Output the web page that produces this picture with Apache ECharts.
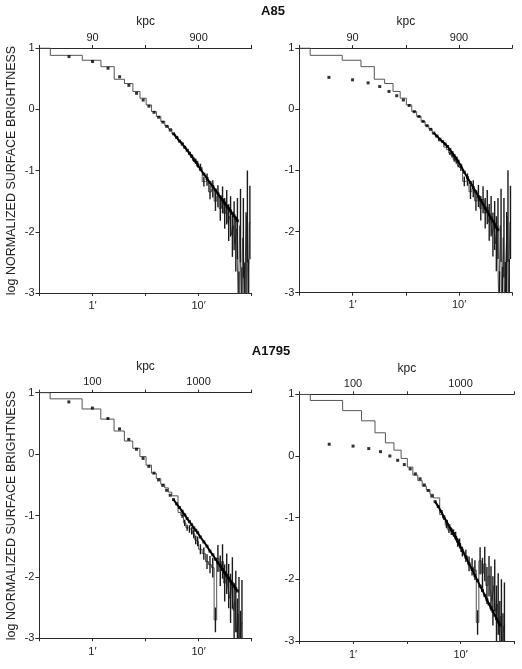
<!DOCTYPE html>
<html><head><meta charset="utf-8">
<script src="https://cdn.jsdelivr.net/npm/echarts/dist/echarts.min.js"></script>
<style>html,body{margin:0;padding:0;background:#fff}#c{width:522px;height:669px}</style>
</head><body><div id="c"></div>
<script>
// ---- data (radius in arcmin, values = log normalized surface brightness) ----
const histEdges = [0.316, 0.4, 0.8, 1.2, 1.6, 2.0, 2.4, 2.8, 3.2, 3.6, 4.0, 4.4, 4.8, 5.2, 5.6, 6.0, 6.4, 6.8, 7.2, 7.6, 8.0, 8.4, 8.8, 9.2, 9.6, 10.0,
  10.8, 11.6, 12.4, 13.2, 14.0, 14.8, 15.6, 16.4, 17.2, 18.0, 18.8, 19.6, 20.4, 21.2, 22.0, 22.8, 23.6, 24.4, 25.2, 26.0, 26.8, 27.6, 28.4, 29.2, 30.0, 30.8];

const histA85 = [1.00, 0.88, 0.80, 0.695, 0.49, 0.42, 0.29, 0.18, 0.07, -0.04,
  -0.12, -0.20, -0.27, -0.32, -0.40, -0.45, -0.52, -0.55, -0.62, -0.66, -0.72, -0.76, -0.82, -0.85, -0.90,
  -0.95, -1.18, -1.15, -1.35, -1.30, -1.50, -1.42, -1.62, -1.48, -1.70, -1.60, -1.85, -1.75, -2.05, -1.90, -2.20, -1.95, -3.2, -1.90, -3.2, -2.10, -3.2, -2.40, -1.75, -3.2, -1.85];
const errA85 = [0, 0, 0, 0, 0, 0, 0, 0, 0, 0, 0, 0, 0, 0, 0, 0, 0, 0, 0, 0, 0.03, 0.03, 0.04, 0.04, 0.05,
  0.06, 0.08, 0.10, 0.12, 0.14, 0.16, 0.18, 0.20, 0.22, 0.25, 0.28, 0.30, 0.33, 0.36, 0.40, 0.45, 0.50, 0.55, 0.60, 0.62, 0.65, 0.70, 0.72, 0.75, 0.75, 0.60];

const histA1795 = [1.00, 0.90, 0.735, 0.57, 0.376, 0.213, 0.094, -0.04, -0.18, -0.31,
  -0.40, -0.49, -0.55, -0.62, -0.68, -0.68, -0.95, -1.00, -1.12, -1.20, -1.22, -1.25, -1.30, -1.40, -1.42,
  -1.55, -1.62, -1.75, -1.80, -1.85, -2.70, -1.70, -1.90, -1.75, -2.10, -1.95, -2.15, -2.35, -2.10, -2.55, -2.40, -2.90, -2.60, -3.2, -2.75];
const errA1795 = [0, 0, 0, 0, 0, 0, 0, 0, 0, 0, 0, 0, 0, 0, 0, 0, 0, 0.04, 0.05, 0.05, 0.06, 0.06, 0.07, 0.07, 0.08,
  0.08, 0.10, 0.12, 0.14, 0.16, 0.20, 0.22, 0.25, 0.28, 0.30, 0.33, 0.36, 0.40, 0.42, 0.45, 0.50, 0.55, 0.60, 0.65, 0.70];

const modelR = [0.6, 1.0, 1.4, 1.8, 2.2, 2.6, 3.0, 3.4, 3.8, 4.2, 4.6, 5.0, 5.4, 5.8, 6.2, 6.6, 7.0, 7.4, 7.8, 8.2, 8.6, 9.0, 9.4, 9.8,
  10.4, 11.2, 12.0, 12.8, 13.6, 14.4, 15.2, 16.0, 16.8, 17.6, 18.4, 19.2, 20.0, 20.8, 21.6, 22.4, 23.2];
const modelA85Left = [0.86, 0.78, 0.67, 0.53, 0.39, 0.26, 0.15, 0.05, -0.05, -0.13, -0.21, -0.28, -0.34, -0.40, -0.46, -0.52, -0.57, -0.62, -0.67, -0.72, -0.77, -0.82, -0.86, -0.91,
  -0.98, -1.06, -1.13, -1.20, -1.26, -1.32, -1.38, -1.43, -1.48, -1.53, -1.58, -1.62, -1.66, -1.70, -1.74, -1.78, -1.82];
const modelA85Right = [0.52, 0.48, 0.43, 0.37, 0.29, 0.22, 0.15, 0.06, -0.04, -0.12, -0.20, -0.27, -0.33, -0.39, -0.44, -0.49, -0.53, -0.57, -0.61, -0.66, -0.71, -0.76, -0.80, -0.85,
  -0.93, -1.03, -1.12, -1.20, -1.28, -1.35, -1.43, -1.49, -1.55, -1.62, -1.67, -1.73, -1.78, -1.83, -1.88, -1.93, -1.97];
const modelA1795Left = [0.85, 0.75, 0.58, 0.41, 0.24, 0.08, -0.07, -0.20, -0.31, -0.42, -0.51, -0.59, -0.67, -0.74, -0.81, -0.87, -0.93, -0.99, -1.05, -1.10, -1.15, -1.20, -1.24, -1.28,
  -1.35, -1.43, -1.50, -1.58, -1.64, -1.71, -1.77, -1.82, -1.88, -1.93, -1.98, -2.02, -2.07, -2.11, -2.15, -2.19, -2.23];
const modelA1795Right = [0.19, 0.16, 0.12, 0.07, 0.00, -0.07, -0.14, -0.21, -0.29, -0.37, -0.47, -0.56, -0.65, -0.74, -0.82, -0.90, -0.99, -1.06, -1.13, -1.20, -1.26, -1.32, -1.38, -1.44,
  -1.53, -1.64, -1.75, -1.84, -1.94, -2.02, -2.11, -2.18, -2.26, -2.33, -2.40, -2.46, -2.52, -2.58, -2.64, -2.69, -2.74];
const modelLineFromR = 5.8;

const arcTickPos = [0, 1];
const arcTickLabels = ['1\u2032', '10\u2032'];
const kpcLabelsA85 = ['90', '900'];
const kpcLabelsA1795 = ['100', '1000'];
const titles = ['A85', 'A1795'];
const yAxisTitle = 'log NORMALIZED SURFACE BRIGHTNESS';

// ---- build ----
const L = Math.log10;
const FONT = '"Liberation Sans", Arial, Helvetica, sans-serif';
function histData(vals) {
  const d = [];
  for (let i = 0; i < vals.length; i++) d.push([L(histEdges[i]), vals[i]]);
  d.push([L(histEdges[vals.length]), vals[vals.length - 1]]);
  return d;
}
function errData(vals, errs) {
  const d = [];
  for (let i = 0; i < vals.length; i++) {
    if (!errs[i]) continue;
    const c = (histEdges[i] + histEdges[i + 1]) / 2;
    const lo = Math.max(-3, vals[i] - errs[i]), hi = Math.min(1, vals[i] + errs[i]);
    if (hi > lo) d.push([L(c), lo, hi]);
  }
  return d;
}
function modelPts(vals) { return modelR.map((r, i) => [L(r), vals[i]]); }
function modelLinePts(vals) { return modelR.map((r, i) => [L(r), vals[i]]).filter((p, i) => modelR[i] >= modelLineFromR); }
function tickLabel(labels) {
  return v => { const i = arcTickPos.findIndex(p => Math.abs(p - v) < 1e-6); return i >= 0 ? labels[i] : ''; };
}

const panels = [
  { box: { left: 39.5, top: 48, width: 212.2, height: 245 }, hist: histA85, err: errA85, model: modelA85Left, kpc: kpcLabelsA85, yName: true, lblGap: 7 },
  { box: { left: 299.3, top: 48, width: 213, height: 244.7 }, hist: histA85, err: errA85, model: modelA85Right, kpc: kpcLabelsA85, yName: false, lblGap: 7 },
  { box: { left: 39.3, top: 392.7, width: 212.4, height: 245.6 }, hist: histA1795, err: errA1795, model: modelA1795Left, kpc: kpcLabelsA1795, yName: true, lblGap: 8 },
  { box: { left: 299.3, top: 394.3, width: 215, height: 246.7 }, hist: histA1795, err: errA1795, model: modelA1795Right, kpc: kpcLabelsA1795, yName: false, lblGap: 8 }
];

const axisCol = '#2a2a2a';
const grid = [], xAxis = [], yAxis = [], series = [];
panels.forEach((p, gi) => {
  grid.push(Object.assign({ containLabel: false }, p.box));
  const common = { type: 'value', gridIndex: gi, min: -0.5, max: 1.5, interval: 0.5,
    splitLine: { show: false },
    axisLine: { show: true, onZero: false, lineStyle: { color: axisCol, width: 1 } },
    axisTick: { show: true, length: 3, lineStyle: { color: axisCol } } };
  xAxis.push(Object.assign({}, common, { position: 'bottom',
    axisLabel: { margin: p.lblGap, fontSize: 11, fontFamily: FONT, color: '#222', formatter: tickLabel(arcTickLabels) } }));
  xAxis.push(Object.assign({}, common, { position: 'top',
    name: 'kpc', nameLocation: 'middle', nameGap: 20,
    nameTextStyle: { fontSize: 12, fontFamily: FONT, color: '#222' },
    axisLabel: { margin: 5, fontSize: 11, fontFamily: FONT, color: '#222', formatter: tickLabel(p.kpc) } }));
  yAxis.push({ type: 'value', gridIndex: gi, min: -3, max: 1, interval: 1, position: 'left',
    splitLine: { show: false },
    axisLine: { show: true, onZero: false, lineStyle: { color: axisCol, width: 1 } },
    axisTick: { show: true, length: 4, lineStyle: { color: axisCol } },
    axisLabel: { margin: 5, fontSize: 11, fontFamily: FONT, color: '#222' },
    name: p.yName ? yAxisTitle : '', nameLocation: 'middle', nameGap: 21,
    nameTextStyle: { fontSize: 12.5, fontFamily: FONT, color: '#222' } });

  series.push({ type: 'line', xAxisIndex: gi * 2, yAxisIndex: gi, step: 'end', data: histData(p.hist),
    showSymbol: false, clip: true, lineStyle: { color: '#555', width: 1 }, silent: true, z: 2 });
  series.push({ type: 'custom', xAxisIndex: gi * 2, yAxisIndex: gi, data: errData(p.hist, p.err), clip: true,
    encode: { x: 0, y: [1, 2] }, silent: true, z: 3,
    renderItem: (params, api) => {
      const a = api.coord([api.value(0), api.value(1)]);
      const b = api.coord([api.value(0), api.value(2)]);
      return { type: 'line', shape: { x1: a[0], y1: a[1], x2: b[0], y2: b[1] }, style: { stroke: '#1a1a1a', lineWidth: 1.4 } };
    } });
  series.push({ type: 'line', xAxisIndex: gi * 2, yAxisIndex: gi, data: modelLinePts(p.model),
    showSymbol: false, clip: true, lineStyle: { color: '#000', width: 2 }, silent: true, z: 4 });
  series.push({ type: 'scatter', xAxisIndex: gi * 2, yAxisIndex: gi, data: modelPts(p.model),
    symbol: 'rect', symbolSize: 3, itemStyle: { color: '#000' }, silent: true, z: 5 });
});

const chart = echarts.init(document.getElementById('c'), null, { renderer: 'canvas' });
chart.setOption({
  animation: false,
  backgroundColor: '#fff',
  title: [
    { text: titles[0], left: 273, top: 5, textAlign: 'center', padding: 0, textStyle: { fontSize: 13, fontWeight: 'bold', fontFamily: FONT, color: '#111' } },
    { text: titles[1], left: 271, top: 345, textAlign: 'center', padding: 0, textStyle: { fontSize: 13, fontWeight: 'bold', fontFamily: FONT, color: '#111' } }
  ],
  grid, xAxis, yAxis, series
});
</script>
</body></html>
